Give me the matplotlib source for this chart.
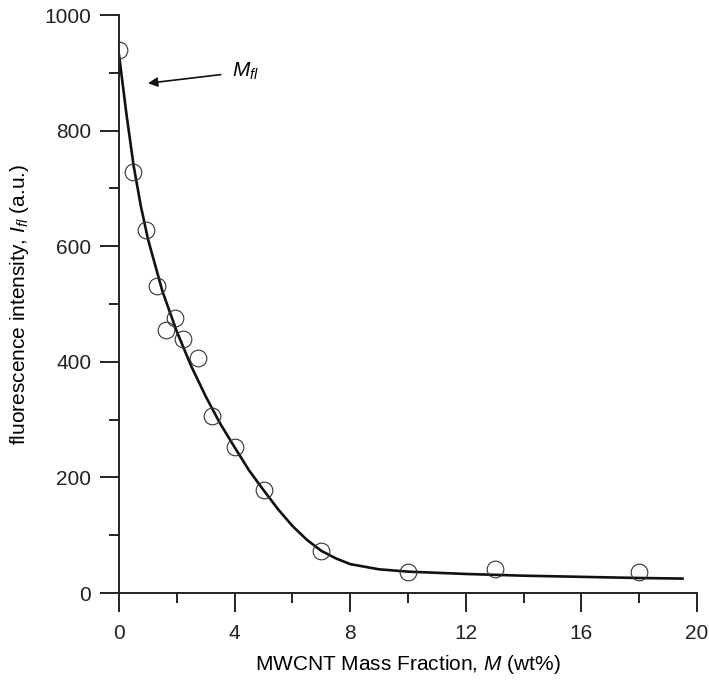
import numpy as np
import matplotlib
matplotlib.use("Agg")
import matplotlib.pyplot as plt
from matplotlib.ticker import MultipleLocator

plt.rcParams["font.family"] = ["Liberation Sans", "DejaVu Sans"]
plt.rcParams["mathtext.fontset"] = "custom"
plt.rcParams["mathtext.it"] = "Liberation Sans:italic"
plt.rcParams["mathtext.rm"] = "Liberation Sans"

# measured points
mass_frac = [0.0, 0.48, 0.93, 1.3, 1.63, 1.94, 2.2, 2.73, 3.2, 4.0, 5.0, 7.0, 10.0, 13.0, 18.0]
intensity = [940, 729, 628, 531, 455, 476, 440, 407, 307, 252, 178, 72, 36, 41, 36]

# fitted curve
fit_x = [0.0, 0.25, 0.5, 0.75, 1.0, 1.5, 2.0, 2.5, 3.0, 3.5, 4.0, 4.5, 5.0, 5.5,
         6.0, 6.5, 7.0, 7.5, 8.0, 9.0, 10.0, 12.0, 14.0, 16.0, 18.0, 19.5]
fit_y = [930, 830, 740, 670, 612, 522, 452, 392, 340, 293, 252, 212, 178, 145,
         116, 92, 73, 60, 50, 41, 37, 33, 30, 28, 26, 25]

fig = plt.figure(figsize=(7.09, 6.84), dpi=100)
ax = fig.add_axes([0.168, 0.133, 0.815, 0.845])

ax.plot(fit_x, fit_y, color="#111111", lw=1.9, zorder=2)
ax.plot(mass_frac, intensity, "o", ms=12, mfc="none", mec="#333333", mew=0.8, zorder=3)

ax.annotate(r"$M_{fl}$", xy=(1.0, 882), xytext=(3.9, 902),
            fontsize=15, va="center", ha="left",
            arrowprops=dict(arrowstyle="-|>", color="#111111", lw=1.2,
                            mutation_scale=14, shrinkA=6, shrinkB=0))

ax.set_xlim(0, 20)
ax.set_ylim(0, 1000)
ax.xaxis.set_major_locator(MultipleLocator(4))
ax.xaxis.set_minor_locator(MultipleLocator(2))
ax.yaxis.set_major_locator(MultipleLocator(200))
ax.yaxis.set_minor_locator(MultipleLocator(100))

for side in ["top", "right"]:
    ax.spines[side].set_visible(False)
for side in ["left", "bottom"]:
    ax.spines[side].set_linewidth(1.4)
    ax.spines[side].set_color("#222222")

ax.tick_params(which="major", direction="out", length=13.5, width=1.4,
               labelsize=15, pad=6.5, colors="#222222")
ax.tick_params(which="minor", direction="out", length=7, width=1.4, colors="#222222")
ax.tick_params(axis="x", which="major", pad=9)

ax.set_xlabel(r"MWCNT Mass Fraction, $M$ (wt%)", fontsize=15, labelpad=7)
ax.set_ylabel(r"fluorescence intensity, $I_{fl}$ (a.u.)", fontsize=15, labelpad=10)

fig.savefig("out.png", dpi=100)
